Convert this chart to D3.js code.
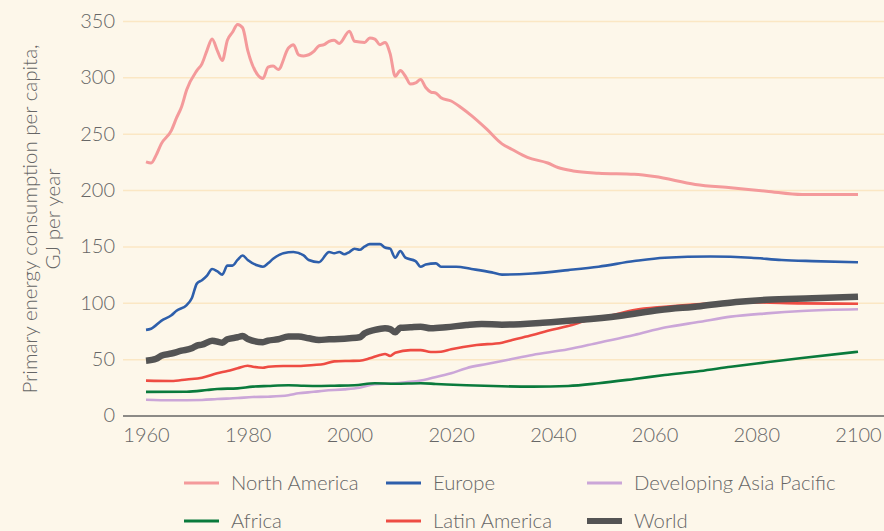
<!DOCTYPE html>
<html>
<head>
<meta charset="utf-8">
<script src="https://cdn.jsdelivr.net/npm/d3@7"></script>
<style>
  html, body { margin: 0; padding: 0; background: #fdf7ea; }
  svg { display: block; }
  text { font-family: Lato, "Open Sans", sans-serif; font-weight: 300; fill: #666; }
</style>
</head>
<body>
<div id="chart"></div>
<script>
var width = 884,
    height = 531;

// [year, GJ per capita]
var northAmerica = [[1960,225],[1961,224],[1962,231],[1963,241],[1965,253],[1966,264],[1967,274],[1968,289],
  [1970,306],[1971,312],[1972,324],[1973,334],[1974,324],[1975,315],[1976,333],[1977,340],[1978,347],[1979,344],
  [1980,324],[1982,302],[1983,299],[1984,309],[1985,310],[1986,307],[1988,326],[1989,329],[1990,320],[1991,319],
  [1993,323],[1994,328],[1995,329],[1996,332],[1997,333],[1998,330],[2000,341],[2001,332],[2003,331],[2004,335],
  [2005,334],[2006,329],[2007,331],[2008,321],[2009,301],[2010,306],[2011,301],[2012,294],[2013,295],[2014,298],
  [2015,291],[2016,287],[2017,286],[2018,282],[2020,279],[2022,273],[2024,266],[2027,254],[2030,241],[2032,236],
  [2035,229],[2039,224],[2041,220],[2044,217],[2049,215],[2056,214],[2060,212],[2068,205],[2075,202],[2082,199],
  [2089,196],[2100,196]];

var europe = [[1960,76],[1961,77],[1963,84],[1965,89],[1966,93],[1968,98],[1969,104],[1970,117],[1971,120],
  [1972,124],[1973,130],[1974,128],[1975,125],[1976,133],[1977,133],[1978,138],[1979,142],[1980,138],[1982,133],
  [1983,132],[1984,135],[1985,139],[1987,144],[1989,145],[1991,142],[1992,138],[1994,136],[1996,145],[1997,144],
  [1998,145],[1999,143],[2000,145],[2001,148],[2002,147],[2003,150],[2004,152],[2006,152],[2007,149],[2008,148],
  [2009,140],[2010,146],[2011,140],[2013,137],[2014,132],[2015,134],[2017,135],[2018,132],[2021,132],[2024,130],
  [2028,127],[2030,125],[2036,126],[2043,129],[2049,132],[2056,137],[2062,140],[2071,141],[2079,140],[2085,138],
  [2091,137],[2100,136]];

var developingAsia = [[1960,14],[1965,13.5],[1971,13.8],[1974,14.6],[1978,15.5],[1981,16.4],[1984,16.7],
  [1988,18],[1990,19.7],[1993,21],[1995,22],[1999,23.2],[2002,24.7],[2005,27.7],[2009,28.6],[2011,29.5],
  [2014,31],[2016,33],[2020,37.4],[2023,42],[2027,45.7],[2031,49.2],[2036,53.7],[2043,58.7],[2049,64.6],
  [2056,71.4],[2062,78],[2069,83.2],[2075,87.7],[2082,90.6],[2089,92.7],[2100,94.2]];

var africa = [[1960,21],[1968,21.1],[1972,22.6],[1974,23.5],[1978,24.1],[1981,25.6],[1984,26.2],[1988,26.8],
  [1991,26.4],[1994,26.2],[1997,26.4],[2001,26.8],[2005,28.6],[2009,28.2],[2014,28.6],[2017,28],[2023,26.8],
  [2030,25.9],[2036,25.6],[2043,26.2],[2049,28.6],[2056,32.4],[2062,35.9],[2069,39.5],[2075,43.3],[2082,47.2],
  [2089,51],[2100,56.6]];

var latinAmerica = [[1960,30.9],[1965,30.6],[1968,32],[1971,33.5],[1974,37.4],[1976,39.5],[1978,41.9],
  [1980,44.2],[1981,43.3],[1983,42.4],[1984,43.3],[1987,43.9],[1990,43.9],[1993,44.8],[1995,45.7],[1997,48],
  [2000,48.4],[2002,48.6],[2004,50.7],[2006,53.7],[2007,54.6],[2008,52.8],[2009,55.7],[2012,58],[2014,58],
  [2016,56.3],[2018,56.6],[2020,58.7],[2025,62.5],[2030,64.6],[2032,67],[2036,71.4],[2039,75.2],[2043,79.4],
  [2047,84.7],[2051,88.3],[2056,93.6],[2062,96.5],[2069,98.9],[2079,100.4],[2089,99.5],[2100,99.2]];

var world = [[1960,48.6],[1962,50.4],[1963,53],[1965,55],[1967,57.5],[1969,59.6],[1970,62],[1971,62.8],
  [1973,66.4],[1975,64.6],[1976,67.6],[1978,69.4],[1979,70.5],[1980,67.9],[1983,65],[1984,66.4],[1986,67.6],
  [1988,70],[1990,70],[1992,68.5],[1994,67],[1996,67.6],[1998,67.9],[2000,68.5],[2002,69.4],[2003,72.9],
  [2005,75.9],[2007,77.4],[2008,76.7],[2009,73.8],[2010,77.8],[2012,78.3],[2014,78.8],[2016,77.4],[2019,78.3],
  [2023,80.3],[2026,81.2],[2030,80.6],[2038,82.3],[2045,84.7],[2053,88.3],[2061,93.6],[2069,97],[2076,100.7],
  [2082,102.7],[2091,104],[2100,105.4]];

var seriesNames = ["North America", "Europe", "Developing Asia Pacific", "Africa", "Latin America", "World"];
var seriesData = [northAmerica, europe, developingAsia, africa, latinAmerica, world];
var seriesColors = ["#f49a9b", "#2e5fab", "#cba6d8", "#0a7a3c", "#ee4c43", "#545454"];
var seriesWidths = [3, 2.6, 2.6, 2.6, 2.6, 6.5];

var yTicks = [0, 50, 100, 150, 200, 250, 300, 350];
var xTicks = [1960, 1980, 2000, 2020, 2040, 2060, 2080, 2100];

var svg = d3.select("#chart").append("svg")
    .attr("width", width)
    .attr("height", height);

svg.append("rect")
    .attr("width", width)
    .attr("height", height)
    .attr("fill", "#fdf7ea");

var x = d3.scaleLinear().domain([1960, 2100]).range([146, 858]);
var y = d3.scaleLinear().domain([0, 350]).range([415.5, 21]);

// gridlines + y labels
var yAxis = d3.axisLeft(y)
    .tickValues(yTicks)
    .tickSize(-(884 - 123))
    .tickPadding(8);

var gy = svg.append("g")
    .attr("transform", "translate(123,0)")
    .call(yAxis);
gy.select(".domain").remove();
gy.selectAll(".tick line")
    .attr("stroke", function(d) { return d === 0 ? "#8c8a86" : "#fbe7c4"; })
    .attr("stroke-width", function(d) { return d === 0 ? 2 : 1.5; });
gy.selectAll(".tick text")
    .attr("font-size", 20)
    .attr("font-family", null)
    .attr("fill", "#666");

// x labels
var xAxis = d3.axisBottom(x)
    .tickValues(xTicks)
    .tickFormat(d3.format("d"))
    .tickSize(0)
    .tickPadding(12);

var gx = svg.append("g")
    .attr("transform", "translate(0,416)")
    .call(xAxis);
gx.select(".domain").remove();
gx.selectAll(".tick text")
    .attr("font-size", 20)
    .attr("font-family", null)
    .attr("fill", "#666");

// y title
var title = svg.append("text")
    .attr("transform", "translate(30,219) rotate(-90)")
    .attr("text-anchor", "middle")
    .attr("font-size", 20.5);
title.append("tspan").attr("x", 0).attr("dy", "0.35em").text("Primary energy consumption per capita,");
title.append("tspan").attr("x", 0).attr("dy", 23).text("GJ per year");

// lines
var line = d3.line()
    .x(function(d) { return x(d[0]); })
    .y(function(d) { return y(d[1]); })
    .curve(d3.curveMonotoneX);

svg.append("g")
    .selectAll("path")
    .data(seriesData)
    .enter().append("path")
    .attr("d", line)
    .attr("fill", "none")
    .attr("stroke", function(d, i) { return seriesColors[i]; })
    .attr("stroke-width", function(d, i) { return seriesWidths[i]; })
    .attr("stroke-linejoin", "round");

// legend
var legendX = [184, 386, 587],
    legendY = [483, 521];

var legend = svg.append("g")
    .selectAll("g")
    .data(seriesNames)
    .enter().append("g")
    .attr("transform", function(d, i) {
        return "translate(" + legendX[i % 3] + "," + legendY[Math.floor(i / 3)] + ")";
    });

legend.append("line")
    .attr("x1", 0)
    .attr("x2", 35)
    .attr("stroke", function(d, i) { return seriesColors[i]; })
    .attr("stroke-width", function(d, i) { return i === 5 ? 6 : 3; });

legend.append("text")
    .attr("x", 47)
    .attr("dy", "0.35em")
    .attr("font-size", 20.3)
    .text(function(d) { return d; });
</script>
</body>
</html>
